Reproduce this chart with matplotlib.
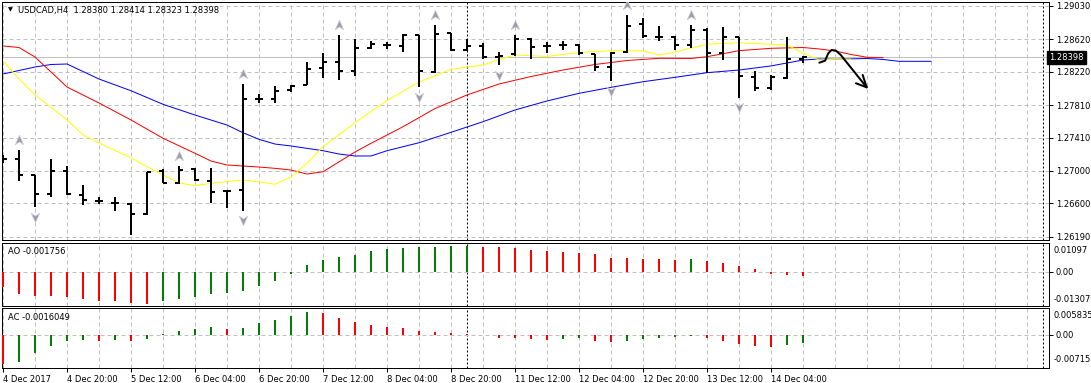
import matplotlib
matplotlib.use("Agg")
import matplotlib.pyplot as plt
from matplotlib.path import Path
import numpy as np

W, H, DPI = 1091, 383, 100
plt.rcParams["font.family"] = ["DejaVu Sans"]
plt.rcParams["font.size"] = 6

# ── data ──────────────────────────────────────────────────────────────────────
TITLE = "USDCAD,H4  1.28380 1.28414 1.28323 1.28398"
LAST_PRICE = 1.28398

OPEN = [1.27140, 1.27150, 1.26950, 1.26720, 1.26999, 1.26707, 1.26626, 1.26609, 1.26589, 1.26466,
        1.26999, 1.26848, 1.27020, 1.26880, 1.26753, 1.26765, 1.27882, 1.27882, 1.27996, 1.28058,
        1.28267, 1.28341, 1.28226, 1.28513, 1.28554, 1.28541, 1.28673, 1.28218, 1.28694, 1.28488,
        1.28538, 1.28406, 1.28436, 1.28628, 1.28541, 1.28550, 1.28546, 1.28436, 1.28283, 1.28460,
        1.28809, 1.28652, 1.28652, 1.28546, 1.28738, 1.28448, 1.28645, 1.28152, 1.28024, 1.28148,
        1.28380]
HIGH = [1.27190, 1.27257, 1.26956, 1.27143, 1.27057, 1.26827, 1.26683, 1.26679, 1.26601, 1.26990,
        1.27024, 1.27061, 1.27032, 1.27032, 1.26757, 1.28070, 1.27947, 1.28045, 1.28058, 1.28341,
        1.28448, 1.28673, 1.28620, 1.28603, 1.28583, 1.28682, 1.28679, 1.28796, 1.28702, 1.28620,
        1.28571, 1.28468, 1.28673, 1.28640, 1.28583, 1.28596, 1.28559, 1.28439, 1.28468, 1.28919,
        1.28879, 1.28784, 1.28661, 1.28796, 1.28756, 1.28772, 1.28652, 1.28234, 1.28177, 1.28645,
        1.28414]
LOW = [1.27100, 1.26876, 1.26552, 1.26683, 1.26704, 1.26584, 1.26589, 1.26503, 1.26211, 1.26457,
       1.26848, 1.26835, 1.26880, 1.26609, 1.26547, 1.26510, 1.27836, 1.27832, 1.27975, 1.28054,
       1.28148, 1.28119, 1.28172, 1.28497, 1.28497, 1.28468, 1.28029, 1.28209, 1.28480, 1.28476,
       1.28374, 1.28300, 1.28418, 1.28381, 1.28448, 1.28488, 1.28423, 1.28234, 1.28107, 1.28448,
       1.28640, 1.28603, 1.28488, 1.28509, 1.28209, 1.28362, 1.27901, 1.27987, 1.27996, 1.28135,
       1.28323]
CLOSE = [1.27150, 1.26950, 1.26720, 1.26999, 1.26716, 1.26638, 1.26628, 1.26611, 1.26473, 1.26988,
         1.26855, 1.27011, 1.26888, 1.26741, 1.26754, 1.27882, 1.27884, 1.27987, 1.28045, 1.28255,
         1.28341, 1.28226, 1.28513, 1.28559, 1.28555, 1.28677, 1.28230, 1.28689, 1.28488, 1.28538,
         1.28399, 1.28415, 1.28620, 1.28529, 1.28543, 1.28551, 1.28448, 1.28283, 1.28455, 1.28788,
         1.28661, 1.28653, 1.28550, 1.28738, 1.28448, 1.28645, 1.28168, 1.28024, 1.28152, 1.28374,
         1.28398]

# Alligator lines, read at these bar positions (shifted forward past the last bar)
JAW_X = [0, 2, 3, 4, 6, 8, 10, 12, 14, 15, 16, 17, 18, 20, 21, 22, 23, 24, 26, 28, 30, 32,
         34, 36, 38, 40, 42, 44, 46, 48, 50, 51, 52, 54, 55, 56, 58]
JAW = [1.28193, 1.28279, 1.28310, 1.28316, 1.28131, 1.27987, 1.27820, 1.27688, 1.27565, 1.27470,
       1.27389, 1.27331, 1.27307, 1.27249, 1.27208, 1.27184, 1.27184, 1.27249, 1.27347, 1.27475,
       1.27606, 1.27750, 1.27861, 1.27955, 1.28029, 1.28098, 1.28152, 1.28209, 1.28242, 1.28292,
       1.28365, 1.28378, 1.28374, 1.28384, 1.28372, 1.28349, 1.28349]
TEETH_X = [0, 1, 2, 4, 6, 8, 10, 12, 13, 14, 16, 17, 18, 19, 20, 22, 23, 25, 27, 29, 31, 33,
           35, 37, 39, 41, 43, 44, 46, 48, 50, 51, 52, 53, 54, 55]
TEETH = [1.28538, 1.28519, 1.28402, 1.28033, 1.27836, 1.27627, 1.27402, 1.27217, 1.27122, 1.27073,
         1.27048, 1.27032, 1.27011, 1.26962, 1.26990, 1.27233, 1.27340, 1.27544, 1.27768, 1.27935,
         1.28070, 1.28162, 1.28242, 1.28310, 1.28359, 1.28386, 1.28384, 1.28406, 1.28480, 1.28509,
         1.28519, 1.28501, 1.28476, 1.28433, 1.28399, 1.28394]
LIPS_X = [0, 1, 2, 4, 5, 6, 8, 9, 10, 11, 12, 13, 15, 16, 17, 18, 19, 20, 22, 24, 26, 28, 30,
          31, 32, 34, 36, 38, 40, 41, 42, 44, 46, 48, 49, 50, 51, 52, 53]
LIPS = [1.28353, 1.28131, 1.27935, 1.27627, 1.27442, 1.27344, 1.27159, 1.27052, 1.26950, 1.26851,
        1.26818, 1.26848, 1.26888, 1.26867, 1.26835, 1.26925, 1.27098, 1.27298, 1.27596, 1.27867,
        1.28095, 1.28251, 1.28304, 1.28372, 1.28427, 1.28409, 1.28458, 1.28480, 1.28476, 1.28427,
        1.28464, 1.28559, 1.28578, 1.28559, 1.28550, 1.28448, 1.28365, 1.28374, 1.28374]

FRACTAL_UP = [1, 11, 15, 21, 27, 32, 39, 43]
FRACTAL_DOWN = [2, 8, 15, 26, 31, 38, 46]

AO = [-0.00614, -0.00852, -0.00933, -0.00937, -0.00987, -0.01068, -0.01148, -0.01152, -0.01229,
      -0.01233, -0.01148, -0.01068, -0.00987, -0.00868, -0.00826, -0.00749, -0.00549, -0.00346,
      -0.00108, 0.00253, 0.00453, 0.00572, 0.00653, 0.00776, 0.00852, 0.00895, 0.00933, 0.00945,
      0.00975, 0.00987, 0.00933, 0.00925, 0.00895, 0.00814, 0.00776, 0.00737, 0.00726, 0.00657,
      0.00534, 0.00526, 0.00495, 0.00488, 0.00453, 0.00495, 0.00415, 0.00334, 0.00215, 0.00092,
      -0.00108, -0.00146, -0.00176]
AC = [-0.00632, -0.00580, -0.00399, -0.00240, -0.00136, -0.00106, -0.00136, -0.00106, -0.00136,
      -0.00082, 0.00022, 0.00091, 0.00136, 0.00180, 0.00136, 0.00158, 0.00249, 0.00316, 0.00407,
      0.00496, 0.00474, 0.00362, 0.00271, 0.00225, 0.00180, 0.00158, 0.00091, 0.00067, 0.00045,
      0.00022, -0.00011, -0.00056, -0.00063, -0.00095, -0.00106, -0.00097, -0.00076, -0.00121,
      -0.00143, -0.00121, -0.00097, -0.00076, -0.00052, -0.00030, -0.00076, -0.00121, -0.00188,
      -0.00234, -0.00256, -0.00210, -0.00167]

PRICE_TICKS = [1.29030, 1.28620, 1.28220, 1.27810, 1.27410, 1.27000, 1.26600, 1.26190]
AO_RANGE = (-0.013079, 0.01097)
AC_RANGE = (-0.007158, 0.005835)
DATE_LABELS = ["4 Dec 2017", "4 Dec 20:00", "5 Dec 12:00", "6 Dec 04:00", "6 Dec 20:00",
               "7 Dec 12:00", "8 Dec 04:00", "8 Dec 20:00", "11 Dec 12:00", "12 Dec 04:00",
               "12 Dec 20:00", "13 Dec 12:00", "14 Dec 04:00"]
SEPARATOR_BAR = 29
SHIFT_BAR = 65
# hand-drawn forecast arrow (bar index, price)
SKETCH_X = [51.02, 51.38, 51.58, 51.79, 52.06, 52.36, 53.98]
SKETCH_Y = [1.28332, 1.28357, 1.28448, 1.28489, 1.28480, 1.28427, 1.28029]
SKETCH_HEAD_X = [53.31, 53.98, 53.73]
SKETCH_HEAD_Y = [1.28079, 1.28029, 1.28181]

# ── layout helpers ────────────────────────────────────────────────────────────
PX = 0.72  # one pixel in points
GRID = dict(color="#c0c0c0", lw=PX, ls=(0, (4, 3)))
GREEN, RED = "#008000", "#ff0000"

fig = plt.figure(figsize=(W / DPI, H / DPI), dpi=DPI)
fig.patch.set_facecolor("white")


def axes_px(x0, y0, x1, y1):
    return fig.add_axes([x0 / W, 1 - y1 / H, (x1 - x0) / W, (y1 - y0) / H])


def fig_text(x, y, s, **kw):
    return fig.text(x / W, 1 - y / H, s, **kw)


XLIM = ((2 - 3) / 16, (1049 - 3) / 16)
n = len(CLOSE)
idx = np.arange(n)

ax = axes_px(2, 2, 1049, 240)
ax_ao = axes_px(2, 243, 1049, 305.5)
ax_ac = axes_px(2, 308, 1049, 368)

for a in (ax, ax_ao, ax_ac):
    a.set_xlim(*XLIM)
    for s in a.spines.values():
        s.set_linewidth(PX)
        s.set_color("black")
    a.set_xticks(np.arange(0, 66, 4))
    a.set_xticks(np.arange(0, 66, 2), minor=True)
    a.grid(True, which="both", axis="x", **GRID)
    a.tick_params(axis="x", which="both", length=0, labelbottom=False)
    a.tick_params(axis="y", which="both", left=False, labelleft=False)
    a.set_axisbelow(True)
    a.axvline(SEPARATOR_BAR, color="black", lw=PX, ls=(0, (2, 2)), zorder=1)
    a.axvline(SHIFT_BAR, color="black", lw=PX, ls=(0, (2, 2)), zorder=1)

# ── main price panel ──────────────────────────────────────────────────────────
ax.set_ylim(1.26150, 1.29079)
ax.yaxis.tick_right()
ax.set_yticks(PRICE_TICKS)
ax.set_yticklabels([f"{v:.5f}" for v in PRICE_TICKS])
ax.tick_params(axis="y", right=True, labelright=True, length=3, width=PX, pad=2,
               direction="out")
ax.grid(True, axis="y", **GRID)
ax.axhline(LAST_PRICE, color="#c0c0c0", lw=PX, zorder=1)

ax.plot(JAW_X, JAW, color="#0000ff", lw=PX, zorder=2)
ax.plot(TEETH_X, TEETH, color="#ff0000", lw=PX, zorder=2)
ax.plot(LIPS_X, LIPS, color="#ffff00", lw=PX, zorder=2)

ax.vlines(idx, LOW, HIGH, color="black", lw=2 * PX, zorder=3)
ax.hlines(OPEN, idx - 0.25, idx, color="black", lw=2 * PX, zorder=3)
ax.hlines(CLOSE, idx, idx + 0.25, color="black", lw=2 * PX, zorder=3)

up_arrow = Path([(0, 0.55), (0.45, -0.45), (0, -0.15), (-0.45, -0.45), (0, 0.55)],
                [Path.MOVETO, Path.LINETO, Path.LINETO, Path.LINETO, Path.CLOSEPOLY])
down_arrow = Path([(x, -y) for x, y in up_arrow.vertices], up_arrow.codes)
HIGH_A, LOW_A = np.array(HIGH), np.array(LOW)
ax.plot(FRACTAL_UP, HIGH_A[FRACTAL_UP] + 0.00118, ls="none", marker=up_arrow, ms=7.5,
        mfc="#9c9ca4", mec="#d0d0dc", mew=0.5, zorder=4)
ax.plot(FRACTAL_DOWN, LOW_A[FRACTAL_DOWN] - 0.00118, ls="none", marker=down_arrow, ms=7.5,
        mfc="#9c9ca4", mec="#d0d0dc", mew=0.5, zorder=4)

ax.plot(SKETCH_X, SKETCH_Y, color="black", lw=2 * PX, solid_joinstyle="round",
        solid_capstyle="round", zorder=5)
ax.plot(SKETCH_HEAD_X, SKETCH_HEAD_Y, color="black", lw=2 * PX, solid_joinstyle="round",
        solid_capstyle="round", zorder=5)

ax.text(1.0, LAST_PRICE, f"{LAST_PRICE:.5f}", transform=ax.get_yaxis_transform(),
        color="white", ha="left", va="center", clip_on=False, zorder=6,
        bbox=dict(boxstyle="square,pad=0.25", facecolor="black", edgecolor="black"))

fig_text(10, 10, "▼", fontsize=4.5, va="center", ha="center")
fig_text(18, 10, TITLE, va="center", ha="left")


# ── oscillators ───────────────────────────────────────────────────────────────
def osc(a, vals, rng, name, top_lab, bot_lab, y_top, y_bot, y_name):
    vals = np.array(vals)
    prev = np.concatenate([[np.inf], vals[:-1]])
    colors = [GREEN if v > p else RED for v, p in zip(vals, prev)]
    a.vlines(idx, 0, vals, colors=colors, lw=2 * PX, zorder=3)
    a.set_ylim(*rng)
    a.axhline(0, **GRID, zorder=1)
    a.yaxis.tick_right()
    a.set_yticks([0])
    a.set_yticklabels(["0.00"])
    a.tick_params(axis="y", right=True, labelright=True, length=3, width=PX, pad=2)
    fig_text(1054, y_top, top_lab, va="center", ha="left")
    fig_text(1054, y_bot, bot_lab, va="center", ha="left")
    fig_text(8, y_name, name, va="center", ha="left")


osc(ax_ao, AO, AO_RANGE, "AO -0.001756", "0.01097", "-0.013079", 250, 300, 252)
osc(ax_ac, AC, AC_RANGE, "AC -0.0016049", "0.005835", "-0.007158", 316, 360, 318)

ax_ac.set_xticks(np.arange(0, 4 * len(DATE_LABELS), 4))
ax_ac.set_xticklabels(DATE_LABELS, ha="left")
ax_ac.tick_params(axis="x", which="major", length=3, width=PX, labelbottom=True,
                  pad=2, direction="out")
for lab in ax_ac.get_xticklabels():
    lab.set_horizontalalignment("left")

fig.savefig("out.png", dpi=DPI, facecolor="white")
